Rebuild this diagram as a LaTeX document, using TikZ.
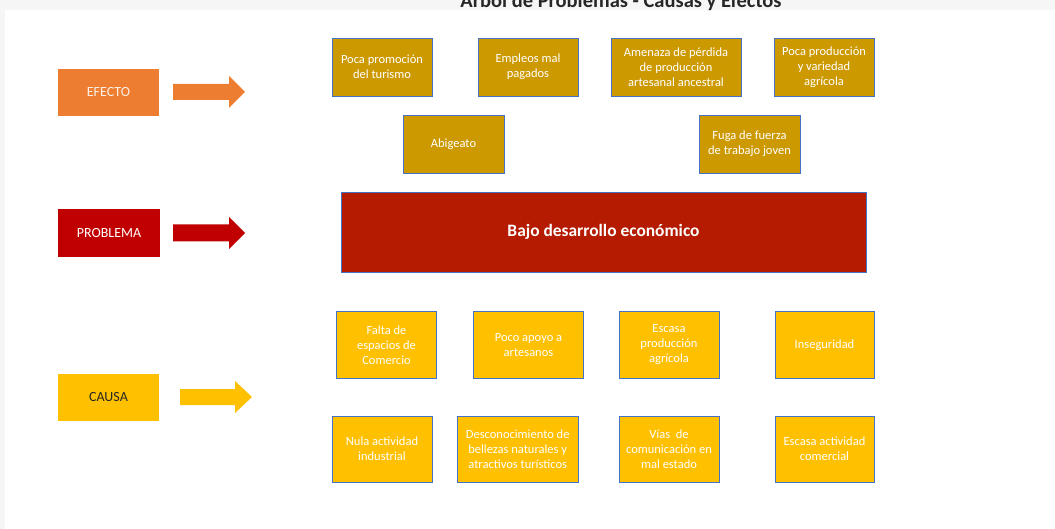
\documentclass[tikz,border=0pt]{standalone}
\usepackage{fontspec}
\setmainfont{Carlito}
\definecolor{efectoC}{HTML}{ED7D31}
\definecolor{problemaC}{HTML}{C00000}
\definecolor{causaC}{HTML}{FFC000}
\definecolor{effbox}{HTML}{CC9900}
\definecolor{mainC}{HTML}{B41B00}
\definecolor{bordC}{HTML}{4472C4}
\definecolor{bandC}{HTML}{F6F6F6}
\definecolor{labtxt}{HTML}{FCEFE6}
\tikzset{
  box/.style={draw=bordC, line width=0.9pt, inner sep=0pt, align=center,
    text=white, font=\fontsize{12.5}{15}\selectfont},
  effbox/.style={box, fill=effbox, minimum height=58pt},
  causebox/.style={box, fill=causaC},
  labelbox/.style={inner sep=0pt, minimum width=101pt, minimum height=47pt,
    font=\fontsize{14}{16}\selectfont}
}
\begin{document}
\begin{tikzpicture}[x=1pt,y=-1pt]
\useasboundingbox (0,0) rectangle (1055,529);
\clip (0,0) rectangle (1055,529);
% background bands
\fill[bandC] (0,0) rectangle (1055,10);
\fill[bandC] (0,0) rectangle (5,529);
% title (cut at the top, as in the reference)
\node[anchor=base, font=\fontsize{20.5}{24}\selectfont\bfseries, text=black!85] (title) at (621,7.5) {Árbol de Problemas - Causas y Efectos};

% left labels
\node[labelbox, fill=efectoC, text=labtxt] (efecto) at (108.5,92.5) {EFECTO};
\node[labelbox, fill=problemaC, text=white, minimum width=102pt, minimum height=48pt] (problema) at (109,233) {PROBLEMA};
\node[labelbox, fill=causaC, text=black!85] (causa) at (108.5,397.5) {CAUSA};

% block arrows
\fill[efectoC] (173,84) -- (229,84) -- (229,76) -- (245,92) -- (229,108) -- (229,100) -- (173,100) -- cycle;
\fill[problemaC] (173,224.5) -- (229,224.5) -- (229,217) -- (245,233) -- (229,249) -- (229,241.5) -- (173,241.5) -- cycle;
\fill[causaC] (180,389) -- (235,389) -- (235,381) -- (252,397) -- (235,413) -- (235,405) -- (180,405) -- cycle;

% effects
\node[effbox, minimum width=100pt] (e1) at (382,67) {Poca promoción\\del turismo};
\node[effbox, minimum width=100pt] (e2) at (528,67) {Empleos mal\\pagados};
\node[effbox, minimum width=130pt] (e3) at (676,67) {Amenaza de pérdida\\de producción\\artesanal ancestral};
\node[effbox, minimum width=100pt] (e4) at (824,67) {Poca producción\\y variedad\\agrícola};
\node[effbox, minimum width=101pt] (e5) at (453.5,144) {Abigeato};
\node[effbox, minimum width=101pt] (e6) at (749.5,144) {Fuga de fuerza\\de trabajo joven};

% main problem
\node[box, fill=mainC, minimum width=525pt, minimum height=80pt,
  font=\fontsize{17.4}{20}\selectfont\bfseries] (main) at (603.5,232.3) {Bajo desarrollo económico};

% causes row 1
\node[causebox, minimum width=100pt, minimum height=67pt] (c1) at (386.5,345) {Falta de\\espacios de\\Comercio};
\node[causebox, minimum width=110pt, minimum height=67pt] (c2) at (528.5,345) {Poco apoyo a\\artesanos};
\node[causebox, minimum width=100pt, minimum height=67pt] (c3) at (669,345) {Escasa\\producción\\agrícola};
\node[causebox, minimum width=99pt, minimum height=67pt] (c4) at (824.5,345) {Inseguridad};
% causes row 2
\node[causebox, minimum width=100pt, minimum height=66.5pt] (c5) at (382,449.2) {Nula actividad\\industrial};
\node[causebox, minimum width=120.5pt, minimum height=66.5pt] (c6) at (517.7,449.2) {Desconocimiento de\\bellezas naturales y\\atractivos turísticos};
\node[causebox, minimum width=100pt, minimum height=66.5pt] (c7) at (669,449.2) {Vías~ de\\comunicación en\\mal estado};
\node[causebox, minimum width=99pt, minimum height=66.5pt] (c8) at (824.5,449.2) {Escasa actividad\\comercial};
\end{tikzpicture}
\end{document}
